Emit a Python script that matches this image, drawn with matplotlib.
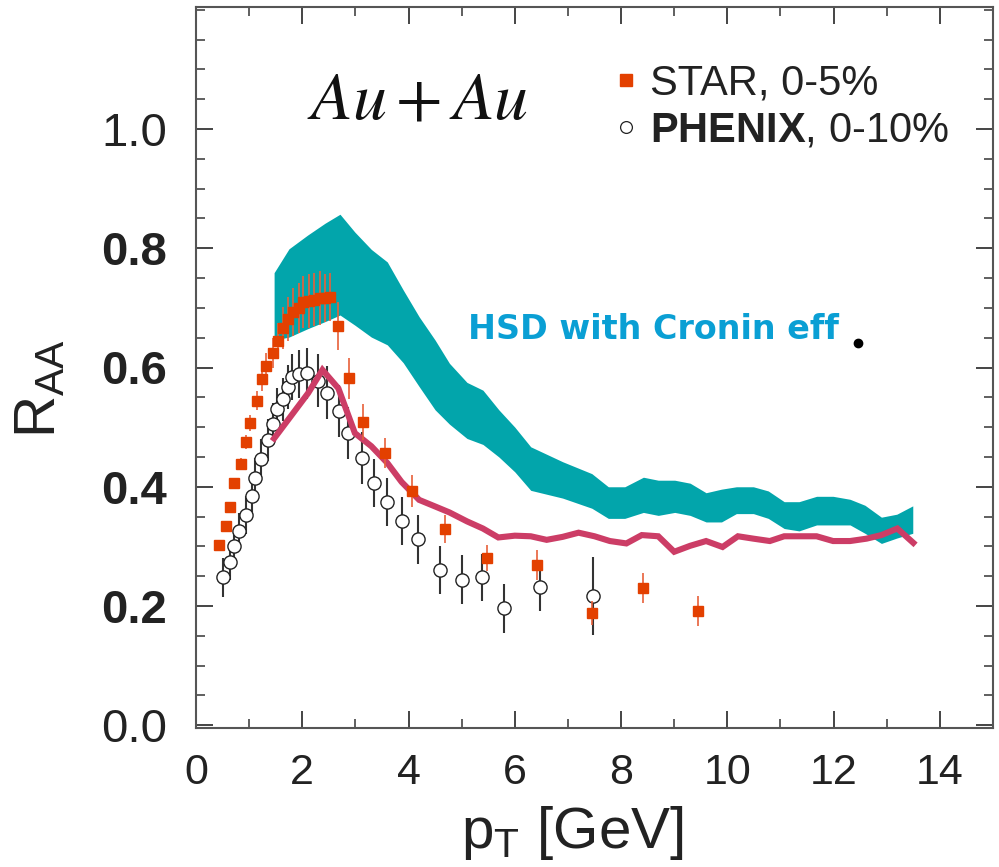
import numpy as np
import matplotlib.pyplot as plt
from matplotlib.lines import Line2D
from matplotlib.ticker import MultipleLocator

plt.rcParams['font.family'] = ['Liberation Sans', 'DejaVu Sans']
plt.rcParams['mathtext.fontset'] = 'custom'
plt.rcParams['mathtext.rm'] = 'Liberation Sans'
plt.rcParams['mathtext.it'] = 'Liberation Sans:italic'
plt.rcParams['mathtext.bf'] = 'Liberation Sans:bold'

# --- HSD band (Cronin) ---
band_x = [1.47, 1.75, 2.1, 2.43, 2.71, 2.99, 3.3, 3.6, 3.9, 4.2, 4.5, 4.77, 5.1, 5.4,
          5.7, 6.0, 6.3, 6.9, 7.45, 7.76, 8.07, 8.42, 8.7, 9.01, 9.3, 9.6, 9.89, 10.17,
          10.49, 10.77, 11.07, 11.35, 11.68, 11.99, 12.31, 12.59, 12.9, 13.19, 13.49]
band_hi = [0.759, 0.799, 0.822, 0.842, 0.857, 0.827, 0.798, 0.777, 0.73, 0.685, 0.646,
           0.607, 0.575, 0.562, 0.529, 0.50, 0.467, 0.442, 0.422, 0.40, 0.40, 0.416,
           0.411, 0.411, 0.406, 0.39, 0.396, 0.40, 0.40, 0.393, 0.375, 0.375, 0.384,
           0.384, 0.379, 0.369, 0.349, 0.354, 0.368]
band_lo = [0.646, 0.651, 0.665, 0.677, 0.688, 0.671, 0.651, 0.638, 0.608, 0.568, 0.529,
           0.505, 0.481, 0.471, 0.45, 0.425, 0.394, 0.381, 0.364, 0.347, 0.347, 0.357,
           0.352, 0.357, 0.352, 0.341, 0.341, 0.355, 0.355, 0.347, 0.33, 0.326, 0.336,
           0.336, 0.336, 0.322, 0.305, 0.314, 0.322]

# --- HSD line ---
line_x = [1.47, 2.11, 2.38, 2.68, 2.99, 3.3, 3.6, 3.87, 4.2, 4.5, 4.77, 5.1, 5.4, 5.69,
          6.0, 6.3, 6.6, 6.9, 7.2, 7.5, 7.79, 8.1, 8.39, 8.7, 9.0, 9.3, 9.6, 9.91, 10.2,
          10.49, 10.8, 11.07, 11.38, 11.68, 11.99, 12.31, 12.62, 12.9, 13.2, 13.5]
line_y = [0.481, 0.557, 0.596, 0.565, 0.49, 0.468, 0.44, 0.408, 0.378, 0.367, 0.357,
          0.342, 0.33, 0.315, 0.318, 0.317, 0.311, 0.316, 0.323, 0.317, 0.309, 0.305,
          0.319, 0.317, 0.291, 0.301, 0.309, 0.299, 0.317, 0.313, 0.309, 0.317, 0.317,
          0.317, 0.309, 0.309, 0.313, 0.319, 0.33, 0.306]

# --- STAR 0-5% ---
star_x = [0.43, 0.56, 0.64, 0.72, 0.85, 0.94, 1.02, 1.14, 1.24, 1.32, 1.44, 1.55, 1.63,
          1.74, 1.83, 1.93, 2.02, 2.12, 2.22, 2.33, 2.42, 2.52, 2.68, 2.88, 3.15, 3.56,
          4.06, 4.69, 5.47, 6.41, 7.45, 8.42, 9.44]
star_y = [0.303, 0.335, 0.366, 0.406, 0.439, 0.475, 0.507, 0.544, 0.58, 0.603, 0.624,
          0.645, 0.666, 0.681, 0.693, 0.70, 0.71, 0.712, 0.714, 0.716, 0.716, 0.718,
          0.67, 0.582, 0.508, 0.456, 0.393, 0.329, 0.28, 0.269, 0.188, 0.23, 0.192]
star_err = [0.005, 0.005, 0.006, 0.008, 0.01, 0.012, 0.014, 0.016, 0.02, 0.022, 0.025,
            0.03, 0.035, 0.037, 0.04, 0.042, 0.043, 0.045, 0.045, 0.045, 0.04, 0.04,
            0.04, 0.034, 0.03, 0.025, 0.027, 0.024, 0.022, 0.025, 0.02, 0.025, 0.025]

# --- PHENIX 0-10% ---
phx_x = [0.51, 0.64, 0.72, 0.81, 0.94, 1.06, 1.11, 1.22, 1.35, 1.44, 1.53, 1.64, 1.74,
         1.8, 1.93, 2.08, 2.3, 2.47, 2.7, 2.87, 3.13, 3.35, 3.59, 3.88, 4.17, 4.59, 5.0,
         5.39, 5.8, 6.47, 7.47]
phx_y = [0.248, 0.274, 0.3, 0.326, 0.353, 0.384, 0.415, 0.446, 0.478, 0.505, 0.53, 0.547,
         0.568, 0.584, 0.589, 0.59, 0.578, 0.558, 0.527, 0.49, 0.448, 0.406, 0.375, 0.343,
         0.312, 0.26, 0.244, 0.248, 0.196, 0.232, 0.217]
phx_err = [0.032, 0.03, 0.03, 0.03, 0.032, 0.032, 0.033, 0.034, 0.035, 0.035, 0.036, 0.036,
           0.037, 0.038, 0.04, 0.042, 0.044, 0.044, 0.044, 0.044, 0.044, 0.04, 0.04, 0.04,
           0.041, 0.04, 0.041, 0.04, 0.041, 0.04, 0.065]

teal = '#02a5ab'
pink = '#cc3d66'
red = '#e34000'

fig = plt.figure(figsize=(9.99, 8.67), dpi=100)
ax = fig.add_axes([196 / 999, 1 - 727.7 / 867, (993 - 196) / 999, (727.7 - 7.3) / 867])

ax.fill_between(band_x, band_lo, band_hi, color=teal, lw=0, zorder=1)
ax.errorbar(phx_x, phx_y, yerr=phx_err, fmt='o', ms=9.5, mfc='white', mec='#222222',
            mew=1.0, ecolor='#333333', elinewidth=1.5, capsize=0, zorder=2)
ax.plot(line_x, line_y, color=pink, lw=4.4, solid_joinstyle='miter', zorder=3)
ax.errorbar(star_x, star_y, yerr=star_err, fmt='s', ms=7.8, color=red, mec=red,
            ecolor='#e8603a', elinewidth=1.2, capsize=0, zorder=4)

ax.set_xlim(0, 15)
ax.set_ylim(-0.004, 1.204)
ax.xaxis.set_major_locator(MultipleLocator(2))
ax.xaxis.set_minor_locator(MultipleLocator(1))
ax.yaxis.set_minor_locator(MultipleLocator(0.05))
ax.set_yticks([0, 0.2, 0.4, 0.6, 0.8, 1.0])
ax.set_yticklabels(['0.0', '0.2', '0.4', '0.6', '0.8', '1.0'])
ax.tick_params(which='both', direction='in', top=True, right=True, color='#444444')
ax.tick_params(which='major', length=12, width=1.4)
ax.tick_params(which='minor', length=6.5, width=1.2)
ax.tick_params(axis='x', labelsize=31, pad=18, labelcolor='#222222')
ax.tick_params(axis='y', labelsize=34, pad=21, labelcolor='#222222')
for lab in ax.get_yticklabels()[1:5]:
    lab.set_fontweight('bold')
for s in ax.spines.values():
    s.set_color('#555555')
    s.set_linewidth(1.5)

fig.text(40 / 999, 1 - 388 / 867, r'$\mathrm{R}_{\mathrm{AA}}$', fontsize=42,
         rotation=90, ha='center', va='center', color='#222222')
fig.text(572 / 999, 1 - 833 / 867, r'$\mathrm{p}_{\mathrm{T}}$ [GeV]', fontsize=42,
         ha='center', va='center', color='#222222')

ax.text(4.17, 1.048, r'$Au + Au$', fontsize=49, math_fontfamily='stix',
        ha='center', va='center', color='#111111')
ax.text(5.12, 0.663, 'HSD with Cronin eff', fontsize=24, fontweight='bold',
        family='DejaVu Sans', color='#0a9fd4', ha='left', va='center')
ax.plot([12.46], [0.641], 'o', color='black', ms=6, zorder=5)

handles = [Line2D([], [], ls='none', marker='s', ms=8, color=red),
           Line2D([], [], ls='none', marker='o', ms=8.5, mfc='white', mec='#222222', mew=0.9)]
leg = ax.legend(handles, ['STAR, 0-5%', r'$\mathbf{PHENIX}$, 0-10%'],
                loc='center left',
                bbox_to_anchor=((613 - 196) / 797, (727.7 - 107) / 720.4),
                frameon=False, fontsize=30, handlelength=0.6, handletextpad=0.3,
                borderpad=0, borderaxespad=0, labelspacing=0.15)
for t in leg.get_texts():
    t.set_color('#222222')

fig.savefig('out.png', dpi=100)
